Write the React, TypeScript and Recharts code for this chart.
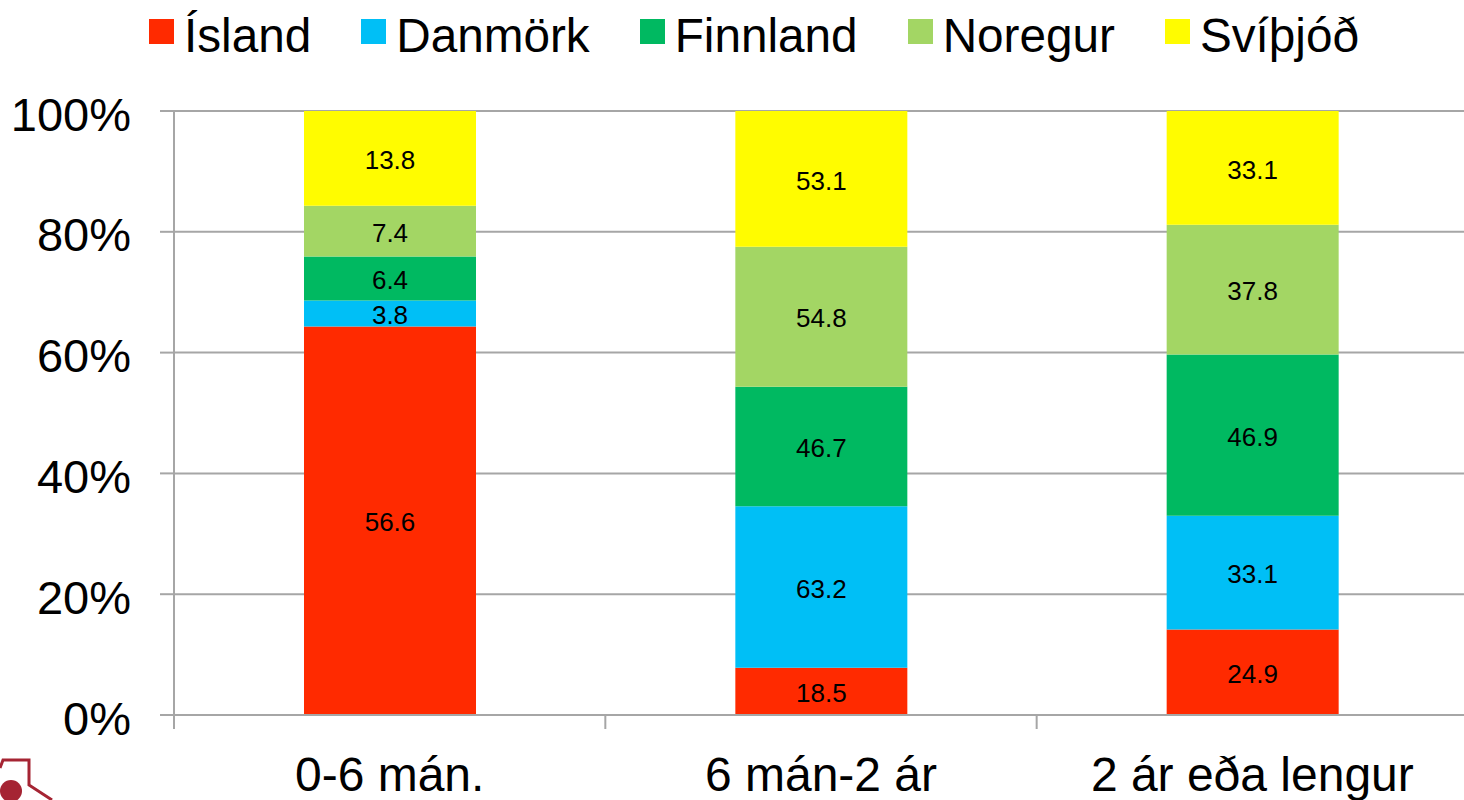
import {
  Bar,
  BarChart,
  CartesianGrid,
  LabelList,
  Legend,
  XAxis,
  YAxis,
} from "recharts";

const categories = ["0-6 mán.", "6 mán-2 ár", "2 ár eða lengur"];
const seriesNames = ["Ísland", "Danmörk", "Finnland", "Noregur", "Svíþjóð"];
const seriesColors = ["#FF2A00", "#00BFF6", "#00B961", "#A3D664", "#FFFC00"];

const island = [56.6, 18.5, 24.9];
const danmork = [3.8, 63.2, 33.1];
const finnland = [6.4, 46.7, 46.9];
const noregur = [7.4, 54.8, 37.8];
const svithjod = [13.8, 53.1, 33.1];
const seriesValues = [island, danmork, finnland, noregur, svithjod];

const yTicks = [0, 0.2, 0.4, 0.6, 0.8, 1];

const data = categories.map((name, i) => {
  const row: Record<string, string | number> = { name };
  seriesNames.forEach((s, j) => {
    row[s] = seriesValues[j][i];
  });
  return row;
});

const FONT = '"Liberation Sans", Arial, sans-serif';
const AXIS = "#A6A6A6";

function LegendRow() {
  return (
    <div
      style={{
        display: "flex",
        gap: 50,
        fontFamily: FONT,
        fontSize: 47.7,
        lineHeight: "54px",
        color: "#000",
      }}
    >
      {seriesNames.map((s, i) => (
        <div key={s} style={{ display: "flex", alignItems: "center", gap: 10 }}>
          <span
            style={{
              width: 25,
              height: 25,
              background: seriesColors[i],
              display: "block",
              transform: "translateY(-5px)",
            }}
          />
          <span>{s}</span>
        </div>
      ))}
    </div>
  );
}

// the original has its tick marks between the categories, not under them
function CategoryTick(props: any) {
  const { x, y, width, payload } = props;
  const step = width / categories.length;
  return (
    <g>
      <line x1={x - step / 2} x2={x - step / 2} y1={y - 26} y2={y - 12} stroke={AXIS} strokeWidth={2} />
      <text x={x} y={y + 50} textAnchor="middle" fontSize={48} fontFamily={FONT} fill="#000">
        {payload.value}
      </text>
    </g>
  );
}

export default function App() {
  return (
    <div
      style={{
        position: "absolute",
        left: 0,
        top: 0,
        width: 1464,
        height: 800,
        overflow: "hidden",
        background: "#fff",
      }}
    >
      <BarChart
        width={1468}
        height={800}
        data={data}
        stackOffset="expand"
        margin={{ top: 57, right: 0, left: 0, bottom: 0 }}
      >
        <CartesianGrid vertical={false} stroke={AXIS} strokeWidth={2} />
        <XAxis
          dataKey="name"
          height={85}
          interval={0}
          stroke={AXIS}
          strokeWidth={2}
          tickLine={false}
          tickMargin={20}
          tick={CategoryTick}
        />
        <YAxis
          width={174}
          domain={[0, 1]}
          ticks={yTicks}
          stroke={AXIS}
          strokeWidth={2}
          tickSize={14}
          tickMargin={29}
          tickFormatter={(v: number) => `${Math.round(v * 100)}%`}
          tick={{ fontSize: 47, fontFamily: FONT, fill: "#000", dy: 3 }}
        />
        <Legend
          content={() => <LegendRow />}
          wrapperStyle={{ position: "absolute", left: 149, top: 9, width: "auto" }}
          verticalAlign="top"
        />
        {seriesNames.map((s, i) => (
          <Bar
            key={s}
            dataKey={s}
            stackId="a"
            fill={seriesColors[i]}
            barSize={172}
            isAnimationActive={false}
          >
            <LabelList
              dataKey={s}
              position="center"
              fill="#000"
              fontSize={26}
              fontFamily={FONT}
              dy={1.5}
            />
          </Bar>
        ))}
      </BarChart>
      <svg
        width={60}
        height={50}
        style={{ position: "absolute", left: 0, top: 750 }}
      >
        <path d="M0 18 L3 10 L29 10 L29 35 L52 50" fill="none" stroke="#A52433" strokeWidth={3} />
        <circle cx={11} cy={41} r={11} fill="#A52433" />
      </svg>
    </div>
  );
}
